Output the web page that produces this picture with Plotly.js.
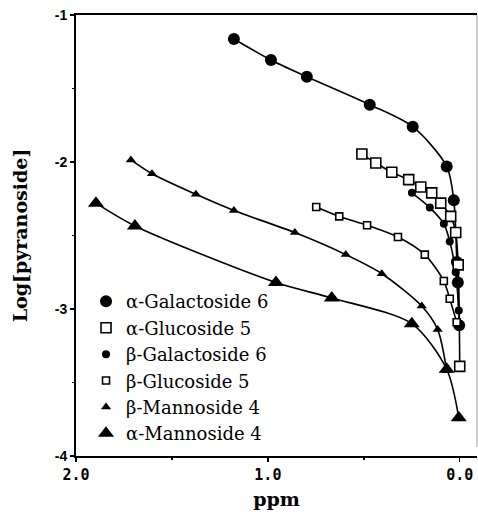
<!DOCTYPE html>
<html>
<head>
<meta charset="utf-8">
<script src="https://cdn.plot.ly/plotly-3.0.1.min.js"></script>
<style>html,body{margin:0;padding:0;background:#fff;}#chart{width:478px;height:514px;}</style>
</head>
<body>
<div id="chart"></div>
<script>
// Series data (ppm, Log[pyranoside])
const aGalX = [1.177, 0.984, 0.797, 0.469, 0.245, 0.068, 0.031, 0.015, 0.010, 0.003];
const aGalY = [-1.163, -1.306, -1.42, -1.61, -1.76, -2.03, -2.26, -2.68, -2.82, -3.11];
const bGalX = [0.249, 0.156, 0.083, 0.052, 0.021, 0.005];
const bGalY = [-2.21, -2.31, -2.42, -2.54, -2.75, -3.01];
const aGlcX = [0.510, 0.4375, 0.354, 0.266, 0.203, 0.146, 0.099, 0.047, 0.021, 0.008, 0.0];
const aGlcY = [-1.946, -2.007, -2.07, -2.12, -2.17, -2.21, -2.28, -2.37, -2.48, -2.70, -3.39];
const bGlcX = [0.748, 0.628, 0.483, 0.322, 0.182, 0.083, 0.052, 0.016];
const bGlcY = [-2.306, -2.37, -2.43, -2.51, -2.63, -2.81, -2.93, -3.09];
const bManX = [1.714, 1.604, 1.375, 1.177, 0.859, 0.594, 0.406, 0.198, 0.115, 0.068];
const bManY = [-1.986, -2.08, -2.22, -2.33, -2.48, -2.63, -2.76, -2.98, -3.14, -3.42];
const aManX = [1.896, 1.693, 0.958, 0.667, 0.25, 0.068, 0.005];
const aManY = [-2.28, -2.435, -2.82, -2.925, -3.10, -3.41, -3.74];

const xTickVals = [2.0, 1.0, 0.0];
const xTickText = ['2.0', '1.0', '0.0'];
const yTickVals = [-1, -2, -3, -4];
const yTickText = ['-1', '-2', '-3', '-4'];

const series = [
  {name: 'α-Galactoside 6', x: aGalX, y: aGalY, symbol: 'circle', size: 12, fill: 'black'},
  {name: 'α-Glucoside 5', x: aGlcX, y: aGlcY, symbol: 'square', size: 10, fill: 'white'},
  {name: 'β-Galactoside 6', x: bGalX, y: bGalY, symbol: 'circle', size: 8, fill: 'black'},
  {name: 'β-Glucoside 5', x: bGlcX, y: bGlcY, symbol: 'square', size: 7, fill: 'white'},
  {name: 'β-Mannoside 4', x: bManX, y: bManY, symbol: 'triangle-up', size: 9, fill: 'black'},
  {name: 'α-Mannoside 4', x: aManX, y: aManY, symbol: 'triangle-up', size: 14, fill: 'black'}
];

const traces = [];
series.forEach(s => {
  traces.push({x: s.x, y: s.y, mode: 'lines', type: 'scatter', showlegend: false,
    line: {color: 'black', width: 1.6, shape: 'spline', smoothing: 0.8}, hoverinfo: 'skip'});
});
series.forEach(s => {
  traces.push({x: s.x, y: s.y, mode: 'markers', type: 'scatter', name: s.name,
    marker: {symbol: s.symbol, size: s.size, color: s.fill, line: {color: 'black', width: s.fill === 'white' ? 1.6 : 0}}});
});

const layout = {
  width: 478, height: 514,
  margin: {l: 76, r: 1, t: 15, b: 58},
  paper_bgcolor: 'white', plot_bgcolor: 'white',
  showlegend: true,
  legend: {x: 0.025, y: 0.392, xanchor: 'left', yanchor: 'top', bgcolor: 'rgba(0,0,0,0)',
    font: {family: 'DejaVu Serif', size: 18, color: 'black'}, itemwidth: 30, tracegroupgap: 0},
  xaxis: {
    range: [2.0, -0.09], autorange: false,
    tickvals: xTickVals, ticktext: xTickText,
    ticks: 'outside', ticklen: 4, tickwidth: 1.5, tickcolor: 'black',
    minor: {dtick: 0.5, tick0: 0, ticks: 'outside', ticklen: 2, tickcolor: 'black'},
    showgrid: false, zeroline: false,
    showline: true, linecolor: 'black', linewidth: 2, mirror: true,
    tickfont: {family: 'DejaVu Sans Mono', size: 15, color: 'black', weight: 'bold'},
    title: {text: 'ppm', font: {family: 'DejaVu Serif', size: 19, color: 'black', weight: 'bold'}, standoff: 10}
  },
  yaxis: {
    range: [-4, -1], autorange: false,
    tickvals: yTickVals, ticktext: yTickText,
    ticks: 'outside', ticklen: 4, tickwidth: 1.5, tickcolor: 'black',
    minor: {dtick: 0.5, tick0: -1, ticks: 'outside', ticklen: 2, tickcolor: 'black'},
    showgrid: false, zeroline: false,
    showline: true, linecolor: 'black', linewidth: 2, mirror: false,
    tickfont: {family: 'Liberation Sans', size: 14, color: 'black', weight: 'bold'},
    title: {text: 'Log[pyranoside]', font: {family: 'DejaVu Serif', size: 19, color: 'black', weight: 'bold'}, standoff: 22}
  },
  shapes: [
    {type: 'line', xref: 'paper', yref: 'paper', x0: 1, x1: 1, y0: 0.02, y1: 1, line: {color: '#999', width: 1}}
  ]
};

Plotly.newPlot('chart', traces, layout, {displayModeBar: false, staticPlot: true});
</script>
</body>
</html>
